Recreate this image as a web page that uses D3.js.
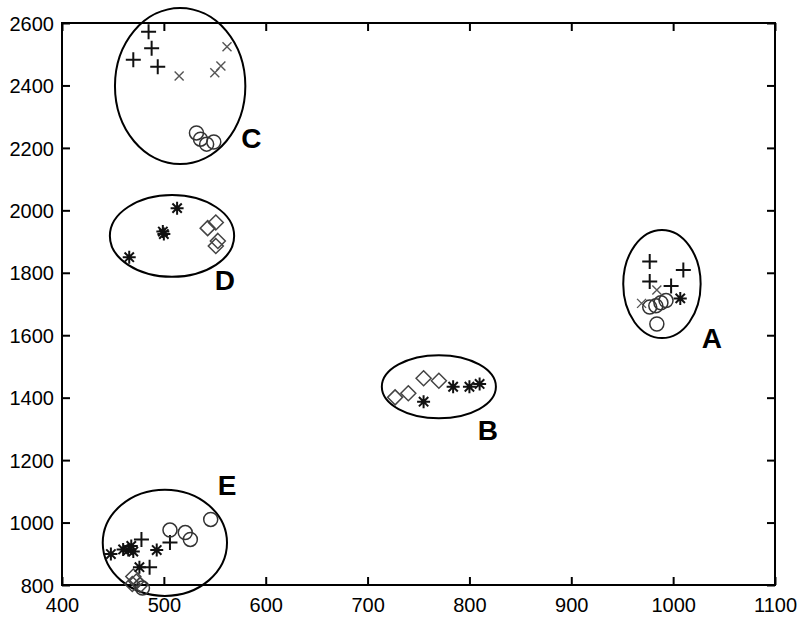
<!DOCTYPE html>
<html>
<head>
<meta charset="utf-8">
<script src="https://cdn.jsdelivr.net/npm/d3@7"></script>
<style>
body{margin:0;background:#fff;}
text{font-family:"Liberation Sans",Arial,sans-serif;}
</style>
</head>
<body>
<svg id="scatter"></svg>
<script>
//tick values for both axes
var xTicks = [400,500,600,700,800,900,1000,1100];
var yTicks = [800,1000,1200,1400,1600,1800,2000,2200,2400,2600];

//the clusters, ellipse centre and radius in data units, plus where the letter sits
var clusters = [
    {name:"A", cx:989, cy:1764, rx:38, ry:173, lx:1038, ly:1590},
    {name:"B", cx:770, cy:1435, rx:56, ry:101, lx:818, ly:1297},
    {name:"C", cx:516, cy:2398, rx:64, ry:250, lx:586, ly:2232},
    {name:"D", cx:508, cy:1918, rx:61, ry:131, lx:560, ly:1777},
    {name:"E", cx:501, cy:935, rx:61, ry:170, lx:562, ly:1120}
];

//points for each marker type [x,y]
var plusPoints = [
    [485,2572],[488,2519],[470,2482],[494,2460],
    [977,1836],[1010,1809],[977,1772],[998,1758],
    [478,946],[506,936],[486,857]
];
var crossPoints = [
    [515,2430],[562,2524],[550,2441],[556,2462],
    [984,1745],[969,1702]
];
var circlePoints = [
    [532,2248],[536,2228],[542,2212],[549,2219],
    [977,1690],[983,1694],[988,1704],[993,1711],[984,1636],
    [546,1010],[506,976],[521,968],[526,946],[479,790]
];
var diamondPoints = [
    [543,1943],[551,1961],[553,1902],[551,1886],
    [727,1401],[740,1414],[755,1462],[770,1454],
    [470,827],[473,811],[477,800],[469,803]
];
var starPoints = [
    [513,2007],[499,1932],[500,1924],[466,1850],
    [1007,1718],
    [755,1387],[784,1435],[800,1435],[810,1444],
    [448,899],[460,914],[465,912],[470,907],[468,925],[476,857],[493,912]
];

var initGraph = function(target)
{
    var screen = {width:798, height:617};
    var margins = {top:23, bottom:32, left:62, right:23};
    var graph =
    {
        width:screen.width-margins.left-margins.right,
        height:screen.height-margins.top-margins.bottom
    };

    var svg = d3.select(target)
        .attr("width",screen.width)
        .attr("height",screen.height);

    var xScale = d3.scaleLinear()
        .domain([400,1100])
        .range([0,graph.width]);
    var yScale = d3.scaleLinear()
        .domain([800,2600])
        .range([graph.height,0]);

    var g = svg.append("g")
        .attr("transform","translate("+margins.left+","+margins.top+")");

    //box with inward ticks on all four sides (matlab style)
    var tickLen = 8;
    var axisStyle = function(sel)
    {
        sel.select(".domain").remove();
        sel.selectAll("line").attr("stroke","#000").attr("stroke-width",2);
        sel.selectAll("text").attr("font-size","20px").attr("fill","#000");
    };
    g.append("g")
        .attr("transform","translate(0,"+graph.height+")")
        .call(d3.axisBottom(xScale).tickValues(xTicks).tickSize(-tickLen).tickPadding(13).tickFormat(d3.format("d")))
        .call(axisStyle);
    g.append("g")
        .call(d3.axisTop(xScale).tickValues(xTicks).tickSize(-tickLen).tickFormat(""))
        .call(axisStyle);
    g.append("g")
        .call(d3.axisLeft(yScale).tickValues(yTicks).tickSize(-tickLen).tickPadding(8).tickFormat(d3.format("d")))
        .call(axisStyle)
        .selectAll("text").attr("dy","0.36em");
    g.append("g")
        .attr("transform","translate("+graph.width+",0)")
        .call(d3.axisRight(yScale).tickValues(yTicks).tickSize(-tickLen).tickFormat(""))
        .call(axisStyle);
    g.append("rect")
        .attr("width",graph.width)
        .attr("height",graph.height)
        .attr("fill","none")
        .attr("stroke","#000")
        .attr("stroke-width",2);

    //ellipses round the clusters
    g.selectAll("ellipse")
        .data(clusters)
        .enter()
        .append("ellipse")
        .attr("cx",function(c){return xScale(c.cx);})
        .attr("cy",function(c){return yScale(c.cy);})
        .attr("rx",function(c){return xScale(c.cx+c.rx)-xScale(c.cx);})
        .attr("ry",function(c){return yScale(c.cy)-yScale(c.cy+c.ry);})
        .attr("fill","none")
        .attr("stroke","#000")
        .attr("stroke-width",2);

    g.selectAll(".lbl")
        .data(clusters)
        .enter()
        .append("text")
        .attr("x",function(c){return xScale(c.lx);})
        .attr("y",function(c){return yScale(c.ly);})
        .attr("text-anchor","middle")
        .attr("dy","0.36em")
        .attr("font-size","28px")
        .attr("font-weight","bold")
        .attr("fill","#000")
        .text(function(c){return c.name;});

    //marker path generators
    var plus = function(s){return "M"+(-s)+",0H"+s+"M0,"+(-s)+"V"+s;};
    var cross = function(s){return "M"+(-s)+","+(-s)+"L"+s+","+s+"M"+(-s)+","+s+"L"+s+","+(-s);};
    var diamond = function(s){return "M0,"+(-s)+"L"+s+",0L0,"+s+"L"+(-s)+",0Z";};
    var star = function(s){var d=s*0.72; return plus(s)+cross(d);};

    var drawMarkers = function(points, path, color, width)
    {
        g.append("g")
            .selectAll("path")
            .data(points)
            .enter()
            .append("path")
            .attr("transform",function(p){return "translate("+xScale(p[0])+","+yScale(p[1])+")";})
            .attr("d",path)
            .attr("fill","none")
            .attr("stroke",color)
            .attr("stroke-width",width);
    };

    drawMarkers(plusPoints, plus(7.5), "#111", 2);
    drawMarkers(crossPoints, cross(4.5), "#555", 1.4);
    drawMarkers(diamondPoints, diamond(7.5), "#444", 1.5);
    drawMarkers(starPoints, star(6.5), "#111", 2);

    g.append("g")
        .selectAll("circle")
        .data(circlePoints)
        .enter()
        .append("circle")
        .attr("cx",function(p){return xScale(p[0]);})
        .attr("cy",function(p){return yScale(p[1]);})
        .attr("r",7)
        .attr("fill","none")
        .attr("stroke","#333")
        .attr("stroke-width",1.5);
};

initGraph("#scatter");
</script>
</body>
</html>
